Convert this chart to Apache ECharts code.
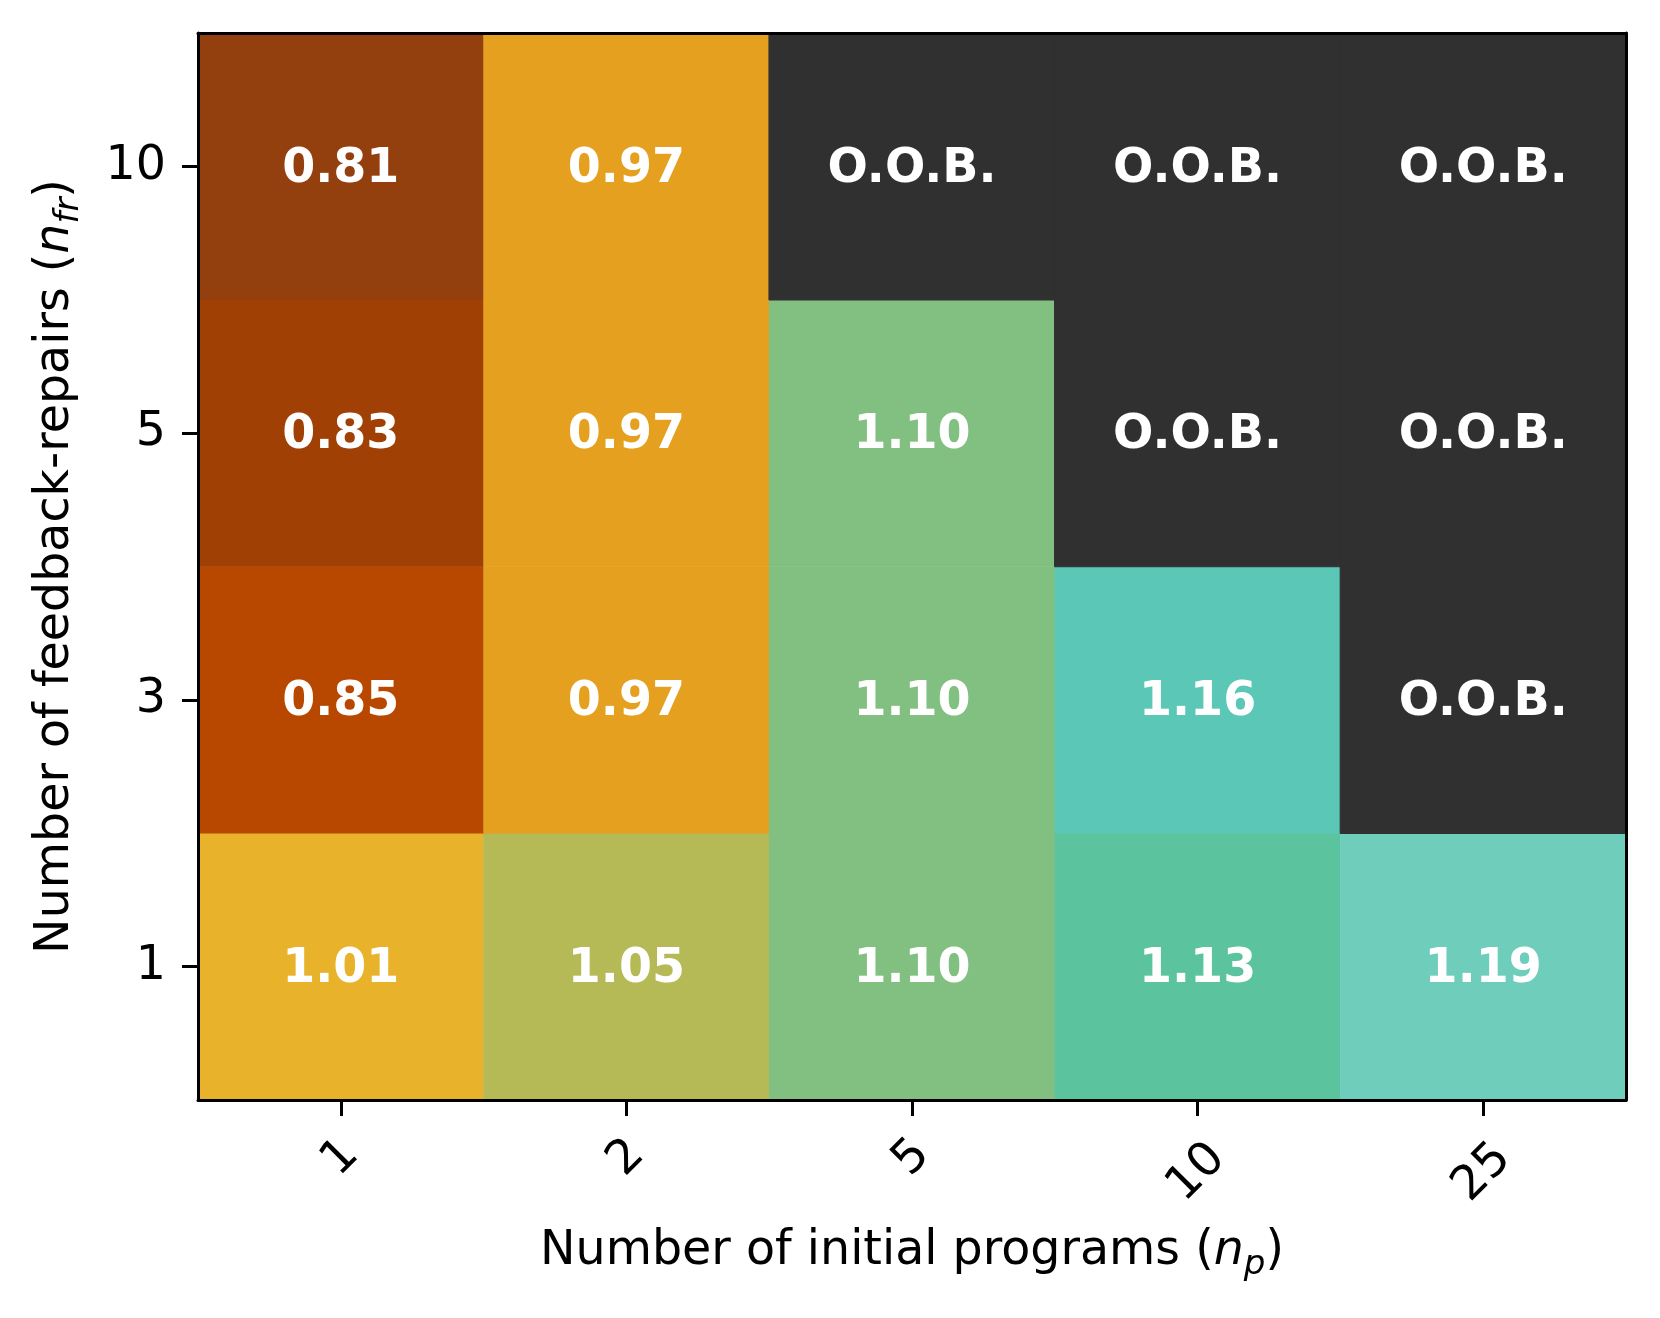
<!DOCTYPE html>
<html>
<head>
<meta charset="utf-8">
<script src="https://cdn.jsdelivr.net/npm/echarts@6/dist/echarts.min.js"></script>
<style>
html,body{margin:0;padding:0;background:#fff;}
#c{width:1660px;height:1318px;}
</style>
</head>
<body>
<div id="c"></div>
<script>
// Categories
var initialPrograms = ['1', '2', '5', '10', '25'];   // x axis (n_p)
var feedbackRepairs = ['1', '3', '5', '10'];          // y axis (n_fr), bottom to top
// Values per n_fr row (null = O.O.B.)
var row_nfr1  = [1.01, 1.05, 1.10, 1.13, 1.19];
var row_nfr3  = [0.85, 0.97, 1.10, 1.16, null];
var row_nfr5  = [0.83, 0.97, 1.10, null, null];
var row_nfr10 = [0.81, 0.97, null, null, null];
var oobLabel = 'O.O.B.';

var rows = [row_nfr1, row_nfr3, row_nfr5, row_nfr10];
var valData = [], oobData = [];
rows.forEach(function (r, yi) {
  r.forEach(function (v, xi) {
    if (v === null) oobData.push([xi, yi, 0]);
    else valData.push([xi, yi, v]);
  });
});

var FONT = 'DejaVu Sans';
var FS = 47.5;
var SUB = 34;

var chart = echarts.init(document.getElementById('c'), null, {renderer: 'canvas'});
var cellLabel = {
  show: true, color: '#ffffff', fontFamily: FONT, fontWeight: 'bold', fontSize: FS, offset: [0, 3]
};
var titleRich = {
  t: {fontFamily: FONT, fontSize: FS, color: '#000', lineHeight: 60},
  i: {fontFamily: FONT, fontSize: FS, fontStyle: 'italic', color: '#000', lineHeight: 60},
  b: {fontFamily: FONT, fontSize: SUB, fontStyle: 'italic', color: '#000', lineHeight: 60, verticalAlign: 'bottom'}
};
chart.setOption({
  animation: false,
  backgroundColor: '#ffffff',
  grid: {left: 198, right: 34, top: 33, bottom: 218},
  visualMap: {
    show: false, type: 'piecewise', seriesIndex: 0, dimension: 2,
    pieces: [
      {lt: 0.82, color: '#933f0e'},
      {gte: 0.82, lt: 0.84, color: '#a04004'},
      {gte: 0.84, lt: 0.90, color: '#b84700'},
      {gte: 0.90, lt: 0.99, color: '#e4a01e'},
      {gte: 0.99, lt: 1.03, color: '#e8b32a'},
      {gte: 1.03, lt: 1.08, color: '#b5b956'},
      {gte: 1.08, lt: 1.12, color: '#82c081'},
      {gte: 1.12, lt: 1.145, color: '#5bc39e'},
      {gte: 1.145, lt: 1.175, color: '#5bc8b7'},
      {gte: 1.175, color: '#6fcdbc'}
    ]
  },
  xAxis: [{
    type: 'category', data: initialPrograms, position: 'bottom', z: 10,
    splitArea: {show: false}, splitLine: {show: false},
    axisLine: {show: true, lineStyle: {color: '#000', width: 3}},
    axisTick: {show: true, alignWithLabel: true, length: 16, lineStyle: {color: '#000', width: 3}},
    axisLabel: {
      interval: 0, rotate: 45, margin: 58, align: 'center', verticalAlign: 'middle',
      fontFamily: FONT, fontSize: FS, color: '#000',
      formatter: function (v) { return v.length > 1 ? '{l|' + v + '}' : '{s|' + v + '}'; },
      rich: {
        s: {fontFamily: FONT, fontSize: FS, color: '#000'},
        l: {fontFamily: FONT, fontSize: FS, color: '#000', padding: [20, 22, 0, 0]}
      }
    },
    name: '{t|Number of initial programs (}{i|n}{b|p}{t|)}',
    nameLocation: 'middle', nameGap: 122,
    nameTextStyle: {fontFamily: FONT, fontSize: FS, color: '#000', rich: titleRich}
  }, {
    type: 'category', data: initialPrograms, position: 'top', z: 10,
    axisLine: {show: true, lineStyle: {color: '#000', width: 3}},
    axisTick: {show: false}, axisLabel: {show: false}, splitLine: {show: false}
  }],
  yAxis: [{
    type: 'category', data: feedbackRepairs, position: 'left', z: 10,
    splitArea: {show: false}, splitLine: {show: false},
    axisLine: {show: true, lineStyle: {color: '#000', width: 3}},
    axisTick: {show: true, alignWithLabel: true, length: 16, lineStyle: {color: '#000', width: 3}},
    axisLabel: {margin: 32, fontFamily: FONT, fontSize: FS, color: '#000', padding: [4, 0, 0, 0]},
    name: '{t|Number of feedback-repairs (}{i|n}{b|fr}{t|)}',
    nameLocation: 'middle', nameGap: 112, nameRotate: 90,
    nameTextStyle: {fontFamily: FONT, fontSize: FS, color: '#000', rich: titleRich}
  }, {
    type: 'category', data: feedbackRepairs, position: 'right', z: 10,
    axisLine: {show: true, lineStyle: {color: '#000', width: 3}},
    axisTick: {show: false}, axisLabel: {show: false}, splitLine: {show: false}
  }],
  series: [{
    type: 'heatmap', xAxisIndex: 0, yAxisIndex: 0, data: valData,
    label: Object.assign({}, cellLabel, {formatter: function (p) { return p.value[2].toFixed(2); }}),
    itemStyle: {borderWidth: 0},
    emphasis: {disabled: true}
  }, {
    type: 'heatmap', xAxisIndex: 0, yAxisIndex: 0, data: oobData,
    itemStyle: {color: '#303030', borderColor: '#303030', borderWidth: 1},
    label: Object.assign({}, cellLabel, {formatter: function () { return oobLabel; }}),
    emphasis: {disabled: true}
  }]
});
</script>
</body>
</html>
